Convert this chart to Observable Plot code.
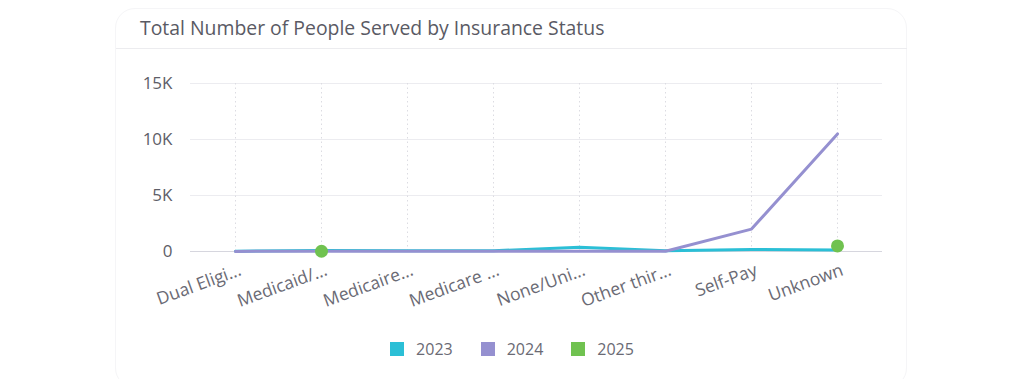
<!DOCTYPE html>
<html>
<head>
<meta charset="utf-8">
<script src="https://cdn.jsdelivr.net/npm/d3@7"></script>
<script src="https://cdn.jsdelivr.net/npm/@observablehq/plot@0.6"></script>
<style>
  html, body { margin: 0; padding: 0; background: #fff; width: 1024px; height: 379px; overflow: hidden; font-family: "Open Sans", sans-serif; }
  #card { position: absolute; left: 115px; top: 8px; width: 792px; height: 380px; border: 1px solid #f5f5f7; border-radius: 20px; box-sizing: border-box; }
  #title { position: absolute; left: 140px; top: 14px; font-size: 19.4px; color: #5a5a64; }
  #sep { position: absolute; left: 116px; top: 48px; width: 791px; height: 1px; background: #ececef; }
  #chart { position: absolute; left: 0; top: 60px; }
  #legend { position: absolute; top: 338px; left: 0; width: 1024px; display: flex; justify-content: center; gap: 28px; font-size: 16px; color: #6a6a74; }
  .item { display: flex; align-items: center; gap: 12px; }
  .sw { width: 14px; height: 14px; display: inline-block; }
</style>
</head>
<body>
<div id="card"></div>
<div id="title">Total Number of People Served by Insurance Status</div>
<div id="sep"></div>
<div id="chart"></div>
<div id="legend"></div>
<script>
const categories = ["Dual Eligi...", "Medicaid/...", "Medicaire...", "Medicare ...", "None/Uni...", "Other thir...", "Self-Pay", "Unknown"];
const values2023 = [30, 80, 60, 70, 380, 60, 180, 130];
const values2024 = [10, 20, 20, 20, 30, 20, 2000, 10500];
const cats2025 = ["Medicaid/...", "Unknown"];
const values2025 = [20, 500];
const years = ["2023", "2024", "2025"];
const colors = ["#2bbfd6", "#9590d0", "#70c250"];
const yTicks = [0, 5000, 10000, 15000];

const d2023 = categories.map((c, i) => ({cat: c, v: values2023[i]}));
const d2024 = categories.map((c, i) => ({cat: c, v: values2024[i]}));
const d2025 = cats2025.map((c, i) => ({cat: c, v: values2025[i]}));

const plot = Plot.plot({
  width: 1024,
  height: 260,
  marginLeft: 190,
  marginRight: 142,
  marginTop: 23,
  marginBottom: 69,
  style: {fontFamily: "'Open Sans', sans-serif", background: "transparent", overflow: "visible"},
  x: {type: "point", domain: categories, padding: 0.5, label: null},
  y: {domain: [0, 15000], label: null},
  marks: [
    Plot.gridY(yTicks.filter(d => d > 0), {stroke: "#ececf0", strokeOpacity: 1}),
    Plot.ruleX(categories, {stroke: "#dcdce2", strokeDasharray: "1.5,3", strokeWidth: 1}),
    Plot.ruleY([0], {stroke: "#d6d6de", strokeWidth: 1}),
    Plot.ruleX([0], {x: () => null, frameAnchor: "left", stroke: "#e3e3ea"}),
    Plot.axisY({ticks: yTicks, tickSize: 0, tickPadding: 18, tickFormat: d => d === 0 ? "0" : d / 1000 + "K", fontSize: 17, fill: "#5e5e68"}),
    Plot.axisX({tickSize: 0, tickRotate: -20, tickPadding: 18, fontSize: 17.5, fill: "#6a6a74", dx: 5}),
    Plot.line(d2023, {x: "cat", y: "v", stroke: colors[0], strokeWidth: 3}),
    Plot.line(d2024, {x: "cat", y: "v", stroke: colors[1], strokeWidth: 3}),
    Plot.dot(d2025, {x: "cat", y: "v", fill: colors[2], r: 6.5})
  ]
});
document.getElementById("chart").appendChild(plot);

const legend = document.getElementById("legend");
years.forEach((y, i) => {
  const it = document.createElement("div");
  it.className = "item";
  it.innerHTML = `<span class="sw" style="background:${colors[i]}"></span><span>${y}</span>`;
  legend.appendChild(it);
});
</script>
</body>
</html>
